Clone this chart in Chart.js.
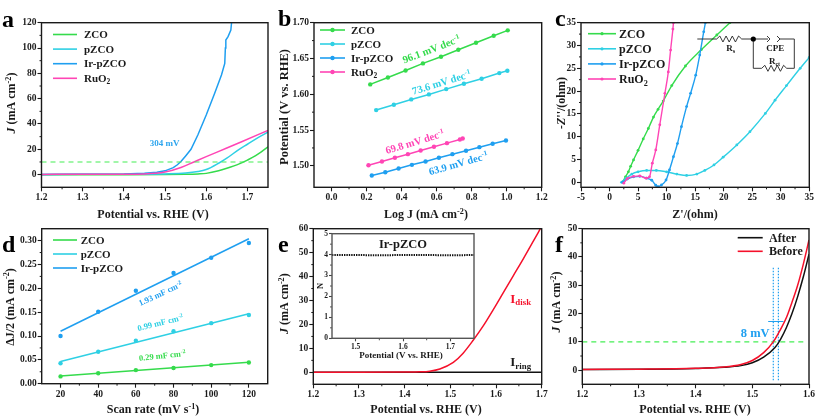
<!DOCTYPE html>
<html>
<head>
<meta charset="utf-8">
<style>
  html, body { margin: 0; padding: 0; background: #fff; overflow: hidden; }
  #page { position: relative; width: 817px; height: 417px; }
  canvas { position: absolute; }
</style>
<script src="https://cdn.jsdelivr.net/npm/chart.js@4/dist/chart.umd.min.js"></script>
</head>
<body>
<div id="page"></div>
<script>
// panel a: LSV
const aTicksX = [1.2, 1.3, 1.4, 1.5, 1.6, 1.7];
const aTicksY = [0, 20, 40, 60, 80, 100, 120];
const aZcoX = [1.2, 1.4, 1.5, 1.55, 1.58, 1.6, 1.63, 1.65, 1.68, 1.7, 1.72, 1.75];
const aZcoY = [0, 0, 0.1, 0.3, 0.6, 1, 3, 5, 8.5, 11.5, 15, 22];
const aPzcoX = [1.2, 1.4, 1.5, 1.55, 1.58, 1.6, 1.63, 1.65, 1.68, 1.7, 1.73, 1.75];
const aPzcoY = [0.2, 0.3, 0.6, 1.2, 2.4, 4, 9, 13, 20, 24, 30, 33.5];
const aIrX = [1.2, 1.4, 1.45, 1.48, 1.5, 1.52, 1.53, 1.5386, 1.55, 1.563, 1.5796, 1.6, 1.6205, 1.637, 1.645, 1.6465, 1.6476, 1.653, 1.6598, 1.6615];
const aIrY = [0.2, 0.5, 1, 1.8, 3, 5.5, 7.8, 10.3, 14.8, 20, 31.3, 47.1, 64.2, 78.7, 87.9, 100, 106.3, 109, 114.2, 120];
const aRuX = [1.2, 1.4, 1.45, 1.5, 1.5386, 1.57, 1.6, 1.65, 1.686, 1.75];
const aRuY = [0.2, 0.3, 0.5, 2, 5.6, 10, 14.2, 21, 26, 35];
const aTenX = [1.2, 1.75];
const aTenY = [10, 10];

// panel b: Tafel
const bTicksX = [0, 0.2, 0.4, 0.6, 0.8, 1.0, 1.2];
const bTicksY = [1.5, 1.55, 1.6, 1.65, 1.7];
const bZcoX = [0.221, 0.322, 0.423, 0.522, 0.625, 0.724, 0.825, 0.926, 1.006];
const bZcoY = [1.6138, 1.6235, 1.6333, 1.6431, 1.6524, 1.6622, 1.672, 1.6818, 1.6893];
const bPzcoX = [0.255, 0.356, 0.455, 0.556, 0.655, 0.756, 0.857, 0.958, 1.004];
const bPzcoY = [1.5779, 1.5853, 1.5928, 1.5998, 1.6072, 1.6147, 1.6217, 1.6296, 1.6329];
const bIrX = [0.23, 0.307, 0.383, 0.459, 0.537, 0.613, 0.69, 0.768, 0.844, 0.92, 0.996];
const bIrY = [1.4865, 1.4911, 1.4963, 1.5014, 1.506, 1.5112, 1.5163, 1.521, 1.5261, 1.5308, 1.5354];
const bRuX = [0.211, 0.288, 0.362, 0.436, 0.509, 0.585, 0.659, 0.733, 0.749];
const bRuY = [1.5009, 1.506, 1.5112, 1.5163, 1.5214, 1.5266, 1.5317, 1.5368, 1.5382];

// panel c: Nyquist
const cTicksX = [-5, 0, 5, 10, 15, 20, 25, 30, 35];
const cTicksY = [0, 5, 10, 15, 20, 25, 30, 35];
const cZcoX = [2.3, 2.8, 3.3, 3.7, 4.2, 5, 5.9, 6.8, 7.7, 8.5, 9.4, 10.9, 13.3, 16.1, 18.8, 21.1];
const cZcoY = [0.1, 1.2, 2.3, 3.5, 4.9, 7, 9.5, 11.8, 14.3, 16, 17.8, 21.2, 25.5, 29.1, 32.3, 35];
const cPzcoX = [2.1, 2.9, 3.9, 5, 6.5, 8.2, 10, 11.8, 13.5, 15.3, 16.7, 18.3, 19.9, 22.3, 24.6, 27.3, 29, 31, 33.4, 35];
const cPzcoY = [0, 0.9, 1.8, 2.3, 2.6, 2.6, 2.3, 1.8, 1.5, 1.8, 2.6, 3.8, 5.5, 8.2, 11.1, 15.1, 18, 21.2, 25, 27.4];
const cIrX = [2.3, 3.1, 4.2, 5.3, 6.5, 7.4, 8.1, 8.5, 9.1, 9.9, 10.5, 11.2, 11.9, 12.6, 13.5, 14.2, 15.1, 15.8, 16.5, 16.8];
const cIrY = [0, 0.7, 1.2, 1.3, 0.9, 0.45, -0.65, -0.95, -0.6, 0.5, 2.7, 5.6, 8.5, 12.2, 16.6, 19.5, 23.5, 27.9, 33, 35];
const cRuX = [2.5, 3.1, 4.2, 5.3, 6.4, 7, 7.5, 8.1, 8.8, 9.7, 10.3, 10.7, 11.1, 11.2];
const cRuY = [-0.2, 0.8, 1.3, 1.4, 0.9, 1.2, 4.2, 7.1, 12.6, 19.5, 24.2, 29, 33.6, 35];

// panel d: double layer capacitance
const scanRates = [20, 40, 60, 80, 100, 120];
const fitEnds = [20, 120];
const dTicksY = [0, 0.05, 0.1, 0.15, 0.2, 0.25, 0.3];
const dZcoY = [0.0153, 0.022, 0.0285, 0.033, 0.039, 0.0444];
const dPzcoY = [0.043, 0.067, 0.09, 0.11, 0.127, 0.144];
const dIrY = [0.1, 0.151, 0.195, 0.232, 0.264, 0.295];
const dZcoFit = [0.016, 0.045];
const dPzcoFit = [0.0465, 0.1465];
const dIrFit = [0.11, 0.304];

// panel e: RRDE
const eTicksX = [1.2, 1.3, 1.4, 1.5, 1.6, 1.7];
const eTicksY = [0, 10, 20, 30, 40, 50, 60];
const eDiskX = [1.2, 1.3, 1.4, 1.434, 1.455, 1.477, 1.5065, 1.528, 1.55, 1.572, 1.594, 1.616, 1.638, 1.66, 1.682, 1.697];
const eDiskY = [0, 0, 0.1, 0.2, 0.5, 1.4, 4.15, 8, 13.4, 19.4, 26.2, 33.3, 40.4, 47.5, 54.9, 60];
const eRingX = [1.2, 1.7];
const eRingY = [0, 0];

// inset of panel e
const insetTicksX = [1.5, 1.6, 1.7];
const insetTicksY = [0, 1, 2, 3, 4, 5];
const insetX = [1.45, 1.5, 1.55, 1.6, 1.65, 1.7, 1.75];
const insetN = [3.98, 3.98, 3.97, 3.98, 3.98, 3.97, 3.98];

// panel f: stability
const fTicksX = [1.2, 1.3, 1.4, 1.5, 1.6];
const fTicksY = [0, 10, 20, 30, 40, 50];
const fAfterX = [1.2, 1.3, 1.4, 1.45, 1.48, 1.5, 1.52, 1.54, 1.55, 1.56, 1.57, 1.58, 1.59, 1.6];
const fAfterY = [0.2, 0.3, 0.6, 1, 1.6, 2.6, 4.6, 8, 11, 15, 20, 26, 33, 41];
const fBeforeX = [1.2, 1.3, 1.4, 1.45, 1.48, 1.5, 1.52, 1.537, 1.55, 1.56, 1.57, 1.58, 1.59, 1.6];
const fBeforeY = [0.25, 0.35, 0.65, 1.1, 2, 3.4, 6.2, 10, 14.5, 18.5, 24, 30, 37.5, 46];
const fTenX = [1.2, 1.595];
const fTenY = [10, 10];
const fMarkA = [1.537, 1.537];
const fMarkB = [1.546, 1.546];
const fMarkY = [-3.6, 36.4];
const fGapX = [1.528, 1.555];
const fGapY = [17.2, 17.2];

const GREEN = '#35db4c', CYAN = '#2fd0e4', BLUE = '#1f9ff0', PINK = '#ff45b5', RED = '#f5102a', DASH = '#45ee55';
const SERIF = '"Liberation Serif", "Times New Roman", serif';
const INK = '#1a1a1a';

function pts(xs, ys) {
  return xs.map((x, i) => ({ x: x, y: ys[i] }));
}

function line(xs, ys, color, extra) {
  return Object.assign({
    data: pts(xs, ys), showLine: true, borderColor: color, backgroundColor: color,
    borderWidth: 1.5, pointRadius: 0, pointHoverRadius: 0, pointBorderWidth: 0
  }, extra || {});
}

const smooth = { cubicInterpolationMode: 'monotone' };

// text with italic, sub and superscript runs: a run is a string or {t, i, sup, sub}
function richText(ctx, runs, x, y, size, color, rot, align) {
  const parts = (Array.isArray(runs) ? runs : [runs]).map(r => typeof r === 'string' ? { t: r } : r);
  const fontOf = r => {
    const s = (r.sup || r.sub) ? size * 0.68 : size;
    return (r.i ? 'italic ' : '') + 'bold ' + s + 'px ' + SERIF;
  };
  let w = 0;
  parts.forEach(r => { ctx.font = fontOf(r); w += ctx.measureText(r.t).width; });
  ctx.save();
  ctx.translate(x, y);
  ctx.rotate((rot || 0) * Math.PI / 180);
  ctx.fillStyle = color;
  ctx.textBaseline = 'alphabetic';
  ctx.textAlign = 'left';
  let cx = align === 'left' ? 0 : -w / 2;
  const base = size * 0.34;
  parts.forEach(r => {
    ctx.font = fontOf(r);
    const dy = r.sup ? -size * 0.36 : (r.sub ? size * 0.22 : 0);
    ctx.fillText(r.t, cx, base + dy);
    cx += ctx.measureText(r.t).width;
  });
  ctx.restore();
}

const panelExtras = new WeakMap();

// axis frame, minor ticks, titles, legend and notes
const furniture = {
  id: 'furniture',
  afterDatasetsDraw(chart) {
    const o = panelExtras.get(chart.canvas);
    const { ctx, chartArea: a, scales } = chart;
    ctx.save();
    ctx.strokeStyle = o.frameColor || INK;
    ctx.lineWidth = 1;
    const ticks = (s, horiz) => {
      const v = s.ticks.map(t => t.value);
      for (let i = 0; i < v.length - 1; i++) {
        const p = s.getPixelForValue((v[i] + v[i + 1]) / 2);
        ctx.beginPath();
        if (horiz) { ctx.moveTo(p, a.bottom); ctx.lineTo(p, a.bottom + 2); }
        else { ctx.moveTo(a.left, p); ctx.lineTo(a.left - 2, p); }
        ctx.stroke();
      }
    };
    ticks(scales.x, true);
    ticks(scales.y, false);
    ctx.lineWidth = o.frame || 1.4;
    ctx.strokeStyle = o.frameColor || INK;
    ctx.strokeRect(a.left, a.top, a.right - a.left, a.bottom - a.top);
    (o.notes || []).forEach(n => {
      richText(ctx, n.text, scales.x.getPixelForValue(n.x), scales.y.getPixelForValue(n.y), n.size, n.color || INK, n.rot);
    });
    ctx.translate(-o.box[0], -o.box[1]);
    if (o.letter) richText(ctx, o.letter[0], o.letter[1], o.letter[2], 24, '#000', 0, 'left');
    if (o.xTitle) richText(ctx, o.xTitle[0], o.xTitle[1], o.xTitle[2], o.xTitle[3] || 12, INK);
    if (o.yTitle) richText(ctx, o.yTitle[0], o.yTitle[1], o.yTitle[2], o.yTitle[3] || 12, INK, -90);
    if (o.legend) {
      const l = o.legend;
      l.items.forEach((it, i) => {
        const y = l.y + i * l.dy;
        ctx.strokeStyle = it.color;
        ctx.fillStyle = it.color;
        ctx.lineWidth = 1.6;
        ctx.beginPath(); ctx.moveTo(l.x0, y); ctx.lineTo(l.x1, y); ctx.stroke();
        if (l.marker) {
          ctx.beginPath(); ctx.arc((l.x0 + l.x1) / 2, y, l.marker, 0, Math.PI * 2); ctx.fill();
        }
        richText(ctx, it.name, l.tx, y, l.size, INK, 0, 'left');
      });
    }
    if (o.draw) o.draw(ctx);
    ctx.restore();
  }
};

// box is the canvas [x, y, w, h] on the page, plot the axes area [left, top, right, bottom] on the page
function panel(box, plot, xr, yr, xTicks, yTicks, xDigits, yDigits, datasets, furn, style) {
  const st = style || {};
  const cv = document.createElement('canvas');
  cv.width = box[2];
  cv.height = box[3];
  cv.style.left = box[0] + 'px';
  cv.style.top = box[1] + 'px';
  document.getElementById('page').appendChild(cv);
  panelExtras.set(cv, Object.assign({ box: box }, furn));
  const axis = (range, list, digits) => ({
    type: 'linear', min: range[0], max: range[1],
    afterBuildTicks: s => { s.ticks = list.map(v => ({ value: v })); },
    border: { display: false },
    grid: { drawOnChartArea: false, drawTicks: true, tickLength: st.tickLen || 4, tickColor: st.frameColor || INK, tickWidth: 1.1 },
    ticks: {
      autoSkip: false, maxRotation: 0, minRotation: 0, padding: 1, color: INK,
      font: { family: SERIF, weight: 'bold', size: st.tick || 9.5 },
      callback: v => Number(v).toFixed(digits)
    }
  });
  const x = axis(xr, xTicks, xDigits);
  const y = axis(yr, yTicks, yDigits);
  x.afterFit = s => { s.height = box[1] + box[3] - plot[3]; };
  y.afterFit = s => { s.width = plot[0] - box[0]; };
  return new Chart(cv, {
    type: 'scatter',
    data: { datasets: datasets },
    options: {
      responsive: false, animation: false, devicePixelRatio: 1,
      layout: {
        autoPadding: false,
        padding: { left: 0, bottom: 0, top: plot[1] - box[1], right: box[0] + box[2] - plot[2] }
      },
      plugins: { legend: { display: false }, tooltip: { enabled: false } },
      scales: { x: x, y: y }
    },
    plugins: [furniture]
  });
}

const legendNames = ['ZCO', 'pZCO', 'Ir-pZCO', ['RuO', { t: '2', sub: true }]];
const legendColors = [GREEN, CYAN, BLUE, PINK];
const legendItems = n => legendNames.slice(0, n).map((name, i) => ({ name: name, color: legendColors[i] }));
const dec = s => [s + ' mV dec', { t: '-1', sup: true }];
const mf = s => [s + ' mF cm', { t: '-2', sup: true }];
const jTitle = [{ t: 'J', i: true }, ' (mA cm', { t: '-2', sup: true }, ')'];
const potTitle = 'Potential vs. RHE (V)';

// a
panel([0, 0, 276, 224], [41.5, 22.7, 268, 187.3], [1.2, 1.75], [-10, 120], aTicksX, aTicksY, 1, 0, [
  line(aTenX, aTenY, DASH, { borderDash: [5, 4], borderWidth: 1.2 }),
  line(aRuX, aRuY, PINK, smooth),
  line(aIrX, aIrY, BLUE),
  line(aPzcoX, aPzcoY, CYAN, smooth),
  line(aZcoX, aZcoY, GREEN, smooth)
], {
  letter: ['a', 2, 19],
  xTitle: [potTitle, 153, 214],
  yTitle: [jTitle, 11, 103],
  legend: { items: legendItems(4), x0: 53, x1: 77, tx: 84, y: 34.5, dy: 14.6, size: 11 },
  notes: [{ text: '304 mV', x: 1.499, y: 24.7, size: 9, color: '#2da5ee' }]
});

// b
const bMark = { pointRadius: 2.2 };
panel([270, 0, 285, 224], [314, 22.7, 541.7, 187.3], [-0.1, 1.2], [1.47, 1.7], bTicksX, bTicksY, 1, 2, [
  line(bRuX, bRuY, PINK, bMark),
  line(bIrX, bIrY, BLUE, bMark),
  line(bPzcoX, bPzcoY, CYAN, bMark),
  line(bZcoX, bZcoY, GREEN, bMark)
], {
  letter: ['b', 278, 18],
  xTitle: [['Log J ', { t: '(mA cm' }, { t: '-2', sup: true }, ')'], 426, 214],
  yTitle: ['Potential (V vs. RHE)', 284, 107, 12.5],
  legend: { items: legendItems(4), x0: 320, x1: 345, tx: 351, y: 30, dy: 14, size: 11, marker: 2.2 },
  notes: [
    { text: dec('96.1'), x: 0.57, y: 1.663, size: 10.5, rot: -21, color: GREEN },
    { text: dec('73.6'), x: 0.628, y: 1.6166, size: 10.5, rot: -17, color: CYAN },
    { text: dec('69.8'), x: 0.476, y: 1.5336, size: 10.5, rot: -17, color: PINK },
    { text: dec('63.9'), x: 0.724, y: 1.5033, size: 10.5, rot: -16, color: BLUE }
  ]
});

// c
const cMark = { pointRadius: 1.4, borderWidth: 1.4, cubicInterpolationMode: 'monotone' };
function zigzag(ctx, x0, x1, y, peaks) {
  const step = (x1 - x0) / (peaks * 2);
  ctx.moveTo(x0, y);
  for (let i = 1; i < peaks * 2; i++) ctx.lineTo(x0 + i * step, y + (i % 2 ? -3 : 3));
  ctx.lineTo(x1, y);
}
panel([545, 0, 272, 224], [581, 22.7, 809.3, 187.3], [-5, 35], [-1.1, 35], cTicksX, cTicksY, 0, 0, [
  line(cRuX, cRuY, PINK, cMark),
  line(cIrX, cIrY, BLUE, cMark),
  line(cPzcoX, cPzcoY, CYAN, cMark),
  line(cZcoX, cZcoY, GREEN, cMark)
], {
  letter: ['c', 555, 18],
  xTitle: ["Z'/(ohm)", 695, 214],
  yTitle: [[{ t: '-Z', i: true }, "''/(ohm)"], 560.7, 103],
  legend: { items: legendItems(4), x0: 588, x1: 616, tx: 619, y: 33.7, dy: 15.1, size: 12, marker: 1.6 },
  draw(ctx) {
    ctx.strokeStyle = '#222';
    ctx.fillStyle = '#000';
    ctx.lineWidth = 0.9;
    ctx.beginPath();
    ctx.moveTo(697.3, 39); ctx.lineTo(716.7, 39);
    zigzag(ctx, 716.7, 741.7, 39, 4);
    ctx.lineTo(768, 39);
    ctx.moveTo(767, 36); ctx.lineTo(770, 39); ctx.lineTo(767, 42);
    ctx.moveTo(777, 36); ctx.lineTo(780, 39); ctx.lineTo(777, 42);
    ctx.moveTo(780, 39); ctx.lineTo(794.3, 39); ctx.lineTo(794.3, 68.3); ctx.lineTo(786.7, 68.3);
    zigzag(ctx, 786.7, 761.7, 68.3, 4);
    ctx.lineTo(753.3, 68.3); ctx.lineTo(753.3, 39);
    ctx.stroke();
    ctx.beginPath(); ctx.arc(753.3, 39, 2.6, 0, Math.PI * 2); ctx.fill();
    richText(ctx, ['R', { t: 's', sub: true }], 730.7, 47.5, 9, INK);
    richText(ctx, 'CPE', 775.3, 47.5, 9, INK);
    richText(ctx, ['R', { t: 'ct', sub: true }], 774.5, 60.5, 9, INK);
  }
});

// d
const dDot = { showLine: false, pointRadius: 2.2 };
panel([0, 222, 276, 195], [41.7, 227.7, 267.7, 383.7], [10, 130], [0, 0.325], scanRates, dTicksY, 0, 2, [
  line(scanRates, dIrY, BLUE, dDot),
  line(scanRates, dPzcoY, CYAN, dDot),
  line(scanRates, dZcoY, GREEN, dDot),
  line(fitEnds, dIrFit, BLUE),
  line(fitEnds, dPzcoFit, CYAN),
  line(fitEnds, dZcoFit, GREEN)
], {
  letter: ['d', 2, 243.7],
  xTitle: [['Scan rate (mV s', { t: '-1', sup: true }, ')'], 153, 409],
  yTitle: [['\u0394J/2 (mA cm', { t: '-2', sup: true }, ')'], 9.5, 307],
  legend: { items: legendItems(3), x0: 53, x1: 77, tx: 80.7, y: 240, dy: 14, size: 11 },
  notes: [
    { text: mf('1.93'), x: 73, y: 0.189, size: 8.5, rot: -25, color: BLUE },
    { text: mf('0.99'), x: 73, y: 0.128, size: 8.5, rot: -14, color: CYAN },
    { text: mf('0.29'), x: 74, y: 0.059, size: 8.5, rot: -6, color: GREEN }
  ]
});

// e
panel([270, 222, 285, 195], [313.3, 227.7, 541.7, 384.3], [1.2, 1.7], [-5, 60], eTicksX, eTicksY, 1, 0, [
  line(eDiskX, eDiskY, RED, smooth),
  line(eRingX, eRingY, '#111')
], {
  letter: ['e', 278, 243.7],
  xTitle: [potTitle, 426, 409],
  yTitle: [jTitle, 284, 303.7],
  notes: [
    { text: ['I', { t: 'disk', sub: true }], x: 1.654, y: 31, size: 13, color: RED },
    { text: ['I', { t: 'ring', sub: true }], x: 1.654, y: 4.3, size: 13 }
  ]
});

// inset of e
panel([312, 228, 172, 155], [332, 233.7, 474, 338.3], [1.45, 1.75], [0, 5], insetTicksX, insetTicksY, 1, 0, [
  line(insetX, insetN, '#111', { borderWidth: 2, borderDash: [1.4, 1] })
], {
  frameColor: '#555',
  xTitle: ['Potential (V vs. RHE)', 401, 354.5, 9],
  yTitle: ['N', 320, 286, 8.5],
  notes: [{ text: 'Ir-pZCO', x: 1.6, y: 4.5, size: 12.5 }]
}, { tick: 7.5, frameColor: '#444', tickLen: 3 });

// f
panel([545, 222, 272, 195], [582.3, 227.7, 809, 384.3], [1.2, 1.6], [-5, 50], fTicksX, fTicksY, 1, 0, [
  line(fBeforeX, fBeforeY, RED, smooth),
  line(fAfterX, fAfterY, '#111', smooth),
  line(fTenX, fTenY, DASH, { borderDash: [5, 4], borderWidth: 1.2 }),
  line(fMarkA, fMarkY, BLUE, { borderDash: [1.5, 1.5], borderWidth: 1.2 }),
  line(fMarkB, fMarkY, BLUE, { borderDash: [1.5, 1.5], borderWidth: 1.2 }),
  line(fGapX, fGapY, BLUE, { borderWidth: 1 })
], {
  letter: ['f', 555, 243.7],
  xTitle: [potTitle, 695, 409],
  yTitle: [jTitle, 556, 302],
  legend: {
    items: [{ name: 'After', color: '#111' }, { name: 'Before', color: RED }],
    x0: 737.7, x1: 762.7, tx: 769, y: 237.7, dy: 13.6, size: 12
  },
  notes: [{ text: '8 mV', x: 1.505, y: 13.3, size: 12.5, color: '#1f9ff0' }]
});
</script>
</body>
</html>
